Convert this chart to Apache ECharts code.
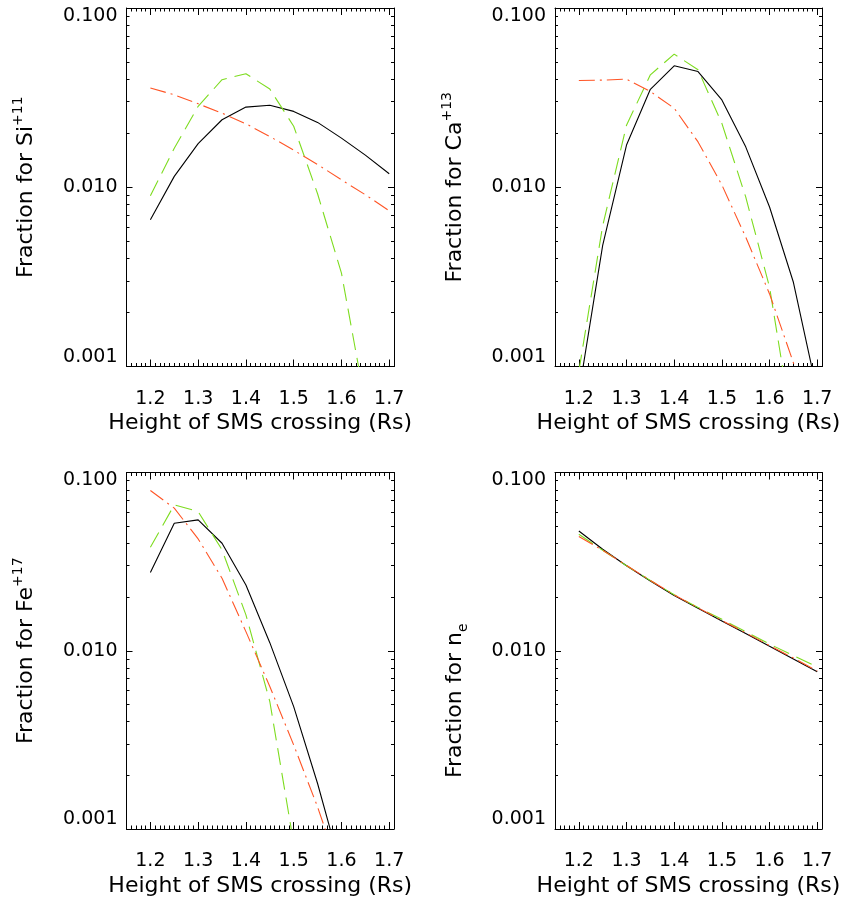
<!DOCTYPE html>
<html><head><meta charset="utf-8">
<script src="https://cdn.jsdelivr.net/npm/echarts@6/dist/echarts.min.js"></script>
<style>html,body{margin:0;padding:0;background:#fff}#c{width:851px;height:902px}</style>
</head><body><div id="c"></div>
<script>
// ---- data ----
const heights = [1.20, 1.25, 1.30, 1.35, 1.40, 1.45, 1.50, 1.55, 1.60, 1.65, 1.70];
const xTickLabels = [1.2, 1.3, 1.4, 1.5, 1.6, 1.7];
const yTickValues = [0.001, 0.01, 0.1];
const xAxisTitle = 'Height of SMS crossing (Rs)';

const siSolid  = [0.00659, 0.0115, 0.0175, 0.0238, 0.0280, 0.0287, 0.0265, 0.0230, 0.0188, 0.0151, 0.0119];
const siDashed = [0.00897, 0.0165, 0.0283, 0.0398, 0.0430, 0.0353, 0.0219, 0.0092, 0.00332, 0.00062, 0.00008];
const siDashDot= [0.0358, 0.0328, 0.0292, 0.0259, 0.0226, 0.0192, 0.0161, 0.0134, 0.0110, 0.00908, 0.00739];

const caSolid  = [0.00071, 0.00474, 0.0172, 0.0352, 0.0476, 0.0442, 0.0307, 0.0168, 0.00776, 0.00295, 0.00072];
const caDashed = [0.00094, 0.0061, 0.0222, 0.0424, 0.0553, 0.0452, 0.0227, 0.00883, 0.00277, 0.00042, 0.00005];
const caDashDot= [0.0394, 0.0396, 0.0401, 0.0342, 0.0276, 0.0179, 0.0103, 0.00527, 0.00254, 0.00105, 0.00037];

const feSolid  = [0.0275, 0.0519, 0.0542, 0.0401, 0.0234, 0.0111, 0.00486, 0.0018, 0.00059, 0.0002, 0.00006];
const feDashed = [0.0381, 0.0658, 0.0604, 0.0368, 0.0159, 0.00519, 0.00083, 0.00008, 0.000005, 0.0000005, 0.00000005];
const feDashDot= [0.0792, 0.0631, 0.0424, 0.0255, 0.0128, 0.0063, 0.00296, 0.00133, 0.00054, 0.0002, 0.00007];

const neSolid  = [0.0470, 0.0371, 0.0300, 0.0246, 0.0204, 0.0173, 0.0147, 0.0125, 0.0106, 0.0090, 0.00763];
const neDashed = [0.0450, 0.0366, 0.0300, 0.0248, 0.0206, 0.0175, 0.0150, 0.0128, 0.0109, 0.0094, 0.0081];
const neDashDot= [0.0437, 0.0366, 0.0301, 0.0248, 0.0206, 0.0174, 0.0148, 0.0126, 0.0107, 0.0091, 0.0077];

const panels = [
  {base: 'Fraction for Si', mod: '+11', sub: false, solid: siSolid, dashed: siDashed, dashdot: siDashDot},
  {base: 'Fraction for Ca', mod: '+13', sub: false, solid: caSolid, dashed: caDashed, dashdot: caDashDot},
  {base: 'Fraction for Fe', mod: '+17', sub: false, solid: feSolid, dashed: feDashed, dashdot: feDashDot},
  {base: 'Fraction for n',  mod: 'e',   sub: true,  solid: neSolid, dashed: neDashed, dashdot: neDashDot}
];

// ---- layout / style ----
const rects = [
  {left: 126.5, top: 8, width: 267.5, height: 358.5},
  {left: 555, top: 8, width: 267, height: 358.5},
  {left: 126.5, top: 472.5, width: 267.5, height: 356.5},
  {left: 555, top: 472.5, width: 267, height: 356.5}
];
const namePads = [[0, 0, 0, 0], [0, 0, 0, 0], [0, 0, 0, 0], [0, 100, 0, 0]];
const FONT = 'DejaVu Sans';
const GREEN = '#7ddc1f';
const ORANGE = '#ff5526';
const X_MIN = 1.15, X_MAX = 1.71;
const Y_MIN = 0.001, Y_MAX = 0.1;

const xMinor = [];
for (let k = 116; k <= 171; k++) xMinor.push(k / 100);
const yMinorLog = [];
for (let d = -3; d <= -2; d++) for (let m = 2; m <= 9; m++) yMinorLog.push(Math.log10(m) + d);

const grid = [], xAxis = [], yAxis = [], series = [];
const lineCol = {show: true, lineStyle: {color: '#000', width: 1}};

function yLabel(v) {
  const s = v.toFixed(3);
  if (v > yTickValues[yTickValues.length - 1] * 0.5) return '{top|' + s + '}';
  return s;
}

panels.forEach((p, i) => {
  const r = rects[i];
  grid.push(Object.assign({containLabel: false, outerBoundsMode: 'none'}, r));
  grid.push(Object.assign({containLabel: false, outerBoundsMode: 'none'}, r));
  const gMain = 2 * i, gMinor = 2 * i + 1;
  // main x axes
  xAxis.push({
    type: 'value', gridIndex: gMain, position: 'bottom', min: X_MIN, max: X_MAX,
    axisLine: lineCol, splitLine: {show: false},
    axisTick: {inside: true, length: 7, customValues: xTickLabels, lineStyle: {color: '#000'}},
    axisLabel: {customValues: xTickLabels, margin: 23, color: '#000', fontFamily: FONT, fontSize: 19,
      formatter: v => v.toFixed(1)},
    name: xAxisTitle, nameLocation: 'middle', nameGap: 46,
    nameTextStyle: {color: '#000', fontFamily: FONT, fontSize: 22}
  });
  xAxis.push({
    type: 'value', gridIndex: gMain, position: 'top', min: X_MIN, max: X_MAX,
    axisLine: lineCol, splitLine: {show: false},
    axisTick: {inside: true, length: 7, customValues: xTickLabels, lineStyle: {color: '#000'}},
    axisLabel: {show: false}
  });
  // minor x axes
  xAxis.push({
    type: 'value', gridIndex: gMinor, position: 'bottom', min: X_MIN, max: X_MAX,
    axisLine: {show: false}, splitLine: {show: false},
    axisTick: {inside: true, length: 3.5, customValues: xMinor, lineStyle: {color: '#000'}},
    axisLabel: {show: false}
  });
  xAxis.push({
    type: 'value', gridIndex: gMinor, position: 'top', min: X_MIN, max: X_MAX,
    axisLine: {show: false}, splitLine: {show: false},
    axisTick: {inside: true, length: 3.5, customValues: xMinor, lineStyle: {color: '#000'}},
    axisLabel: {show: false}
  });
  // main y axes
  const rich = {
    t: {fontFamily: FONT, fontSize: 22, color: '#000', lineHeight: 30},
    s: {fontFamily: FONT, fontSize: 14, color: '#000', lineHeight: 14, verticalAlign: p.sub ? 'bottom' : 'top'}
  };
  yAxis.push({
    type: 'log', logBase: 10, gridIndex: gMain, position: 'left', min: Y_MIN, max: Y_MAX,
    axisLine: lineCol, splitLine: {show: false}, minorTick: {show: false},
    axisTick: {inside: true, length: 6, lineStyle: {color: '#000'}},
    axisLabel: {margin: 9, color: '#000', fontFamily: FONT, fontSize: 19, formatter: yLabel,
      verticalAlignMinLabel: 'bottom',
      rich: {top: {fontFamily: FONT, fontSize: 19, color: '#000', padding: [16, 0, 0, 0]}}},
    name: '{t|' + p.base + '}{s|' + p.mod + '}', nameLocation: 'middle', nameGap: 85,
    nameTextStyle: {rich: rich, color: '#000', fontFamily: FONT, fontSize: 22, padding: namePads[i]}
  });
  yAxis.push({
    type: 'log', logBase: 10, gridIndex: gMain, position: 'right', min: Y_MIN, max: Y_MAX,
    axisLine: lineCol, splitLine: {show: false},
    axisTick: {inside: true, length: 6, lineStyle: {color: '#000'}},
    axisLabel: {show: false}
  });
  // minor y axes (log-decade positions)
  yAxis.push({
    type: 'value', gridIndex: gMinor, position: 'left', min: -3, max: -1,
    axisLine: {show: false}, splitLine: {show: false},
    axisTick: {inside: true, length: 3, customValues: yMinorLog, lineStyle: {color: '#000'}},
    axisLabel: {show: false}
  });
  yAxis.push({
    type: 'value', gridIndex: gMinor, position: 'right', min: -3, max: -1,
    axisLine: {show: false}, splitLine: {show: false},
    axisTick: {inside: true, length: 3, customValues: yMinorLog, lineStyle: {color: '#000'}},
    axisLabel: {show: false}
  });

  const xi = 4 * i, yi = 4 * i;
  const mk = (arr, color, type, width) => ({
    type: 'line', xAxisIndex: xi, yAxisIndex: yi, showSymbol: false, symbol: 'none',
    clip: true, silent: true, animation: false,
    lineStyle: {color: color, width: width, type: type},
    data: heights.map((h, j) => [h, arr[j]])
  });
  series.push(mk(p.solid, '#000', 'solid', 1.1));
  series.push(mk(p.dashed, GREEN, [17, 8], 1.1));
  series.push(mk(p.dashdot, ORANGE, [16, 5, 2, 5], 1.1));
});

const chart = echarts.init(document.getElementById('c'), null, {renderer: 'canvas'});
chart.setOption({animation: false, backgroundColor: '#fff', grid, xAxis, yAxis, series});
</script></body></html>
